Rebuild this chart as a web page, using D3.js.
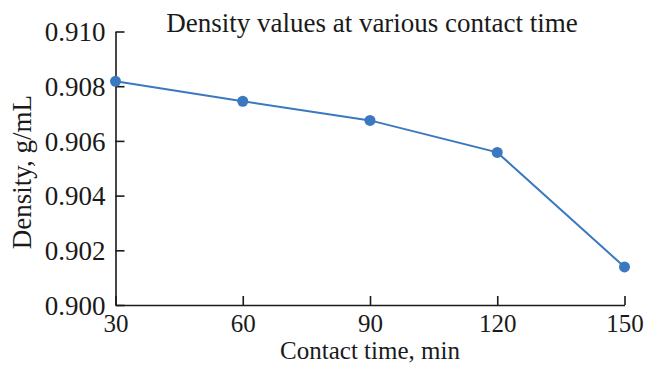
<!DOCTYPE html>
<html>
<head>
<meta charset="utf-8">
<script src="https://cdn.jsdelivr.net/npm/d3@7"></script>
<style>
  body { margin: 0; background: #fff; }
  text { font-family: "Liberation Serif", "Times New Roman", serif; fill: #1a1a1a; }
</style>
</head>
<body>
<div id="chart"></div>
<script>
// Data
const contactTimes = [30, 60, 90, 120, 150];
const densities = [0.90818, 0.90745, 0.90675, 0.90558, 0.90139];
const xTicks = [30, 60, 90, 120, 150];
const yTicks = [0.900, 0.902, 0.904, 0.906, 0.908, 0.910];

const W = 645, H = 365;
const svg = d3.select("#chart").append("svg")
    .attr("width", W)
    .attr("height", H);

const x = d3.scaleLinear().domain([30, 150]).range([115.5, 624.5]);
const y = d3.scaleLinear().domain([0.900, 0.910]).range([305, 31.5]);

// y axis, ticks pointing inward
const yAxis = svg.append("g")
    .attr("transform", `translate(${x(30)},0)`)
    .call(d3.axisRight(y).tickValues(yTicks).tickSize(9).tickSizeOuter(0).tickFormat(d3.format(".3f")));
yAxis.select(".domain").attr("stroke", "#1a1a1a").attr("stroke-width", 1.6);
yAxis.selectAll(".tick line").attr("stroke", "#1a1a1a").attr("stroke-width", 1.6);
yAxis.selectAll(".tick text")
    .attr("x", -10)
    .attr("text-anchor", "end")
    .attr("dy", "0.34em")
    .style("font-size", "27px")
    .style("font-family", "Liberation Serif");

// x axis, ticks pointing up
const xAxis = svg.append("g")
    .attr("transform", `translate(0,${y(0.900)})`)
    .call(d3.axisTop(x).tickValues(xTicks).tickSize(9).tickSizeOuter(0));
xAxis.select(".domain").attr("stroke", "#1a1a1a").attr("stroke-width", 1.6);
xAxis.selectAll(".tick line").attr("stroke", "#1a1a1a").attr("stroke-width", 1.6);
xAxis.selectAll(".tick text")
    .attr("y", 26.5)
    .attr("dy", 0)
    .style("font-size", "25px")
    .style("font-family", "Liberation Serif");

// line + markers
const pts = contactTimes.map((t, i) => ({ t, d: densities[i] }));
svg.append("path")
    .datum(pts)
    .attr("fill", "none")
    .attr("stroke", "#3a78c0")
    .attr("stroke-width", 2)
    .attr("d", d3.line().x(p => x(p.t)).y(p => y(p.d)));

svg.selectAll(".dot")
    .data(pts)
    .enter()
    .append("circle")
    .attr("class", "dot")
    .attr("cx", p => x(p.t))
    .attr("cy", p => y(p.d))
    .attr("r", 5.5)
    .attr("fill", "#3a78c0");

// title
svg.append("text")
    .attr("x", 372)
    .attr("y", 32)
    .attr("text-anchor", "middle")
    .style("font-size", "27px")
    .text("Density values at various contact time");

// axis titles
svg.append("text")
    .attr("x", 370)
    .attr("y", 359.3)
    .attr("text-anchor", "middle")
    .style("font-size", "25px")
    .text("Contact time, min");

svg.append("text")
    .attr("transform", "rotate(-90)")
    .attr("x", -172)
    .attr("y", 31)
    .attr("text-anchor", "middle")
    .style("font-size", "27px")
    .text("Density, g/mL");
</script>
</body>
</html>
